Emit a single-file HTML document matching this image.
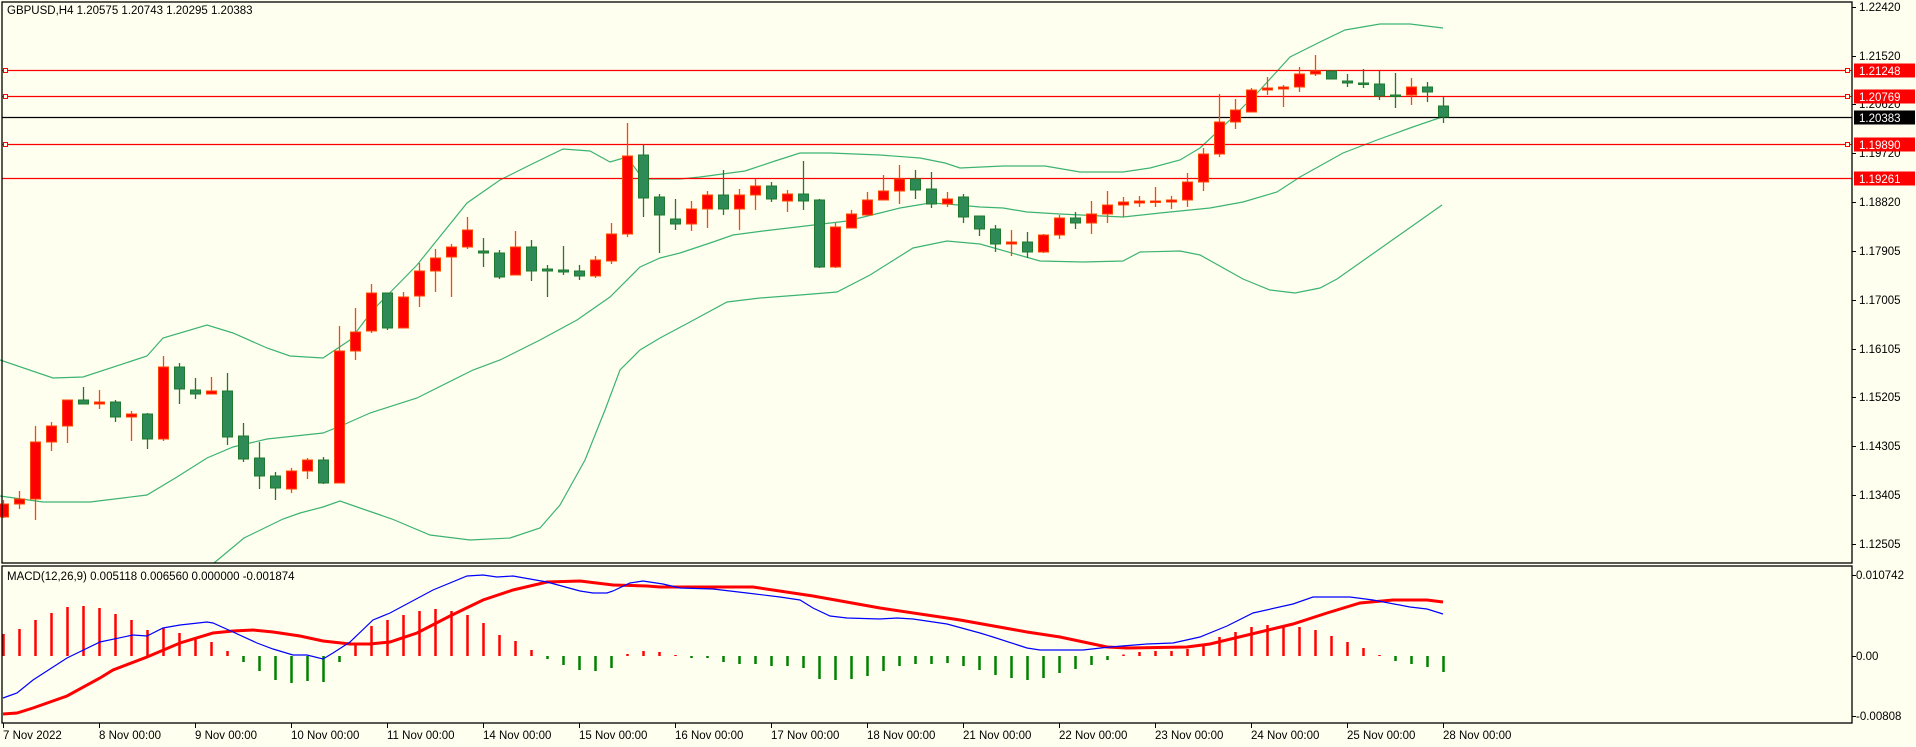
<!DOCTYPE html>
<html><head><meta charset="utf-8"><style>
html,body{margin:0;padding:0;background:#fffff0;}
svg{display:block;font-family:"Liberation Sans",sans-serif;}
</style></head><body>
<svg id="c" width="1916" height="747" viewBox="0 0 1916 747" xmlns="http://www.w3.org/2000/svg">
<rect width="1916" height="747" fill="#fffff0"/>
<g id="bands" fill="none" stroke="#3cb371" stroke-width="1.2">
<polyline points="0,360 53,378 83,377 147,356 163,338 207,325 233,333 267,348 290,356 323,358 350,340 373,310 417,265 467,203 500,180 530,165 563,149 590,151 610,162 627,157 643,179 680,179 700,177 745,171 775,161 800,153 830,153 880,155 920,158 945,163 960,168 1003,166 1045,166 1080,172 1123,172 1150,168 1180,160 1200,148 1230,120 1260,90 1290,57 1320,42 1345,30 1380,24 1410,24 1443,28"/>
<polyline points="0,496 43,502 90,502 147,495 177,477 207,458 233,447 267,439 323,433 343,425 370,413 417,398 473,370 500,360 540,340 577,320 610,297 640,267 660,258 680,253 713,242 733,235 763,231 797,227 847,221 880,213 900,208 930,203 947,204 980,207 1003,208 1027,212 1060,214 1123,217 1160,213 1210,208 1243,202 1277,192 1300,177 1343,153 1377,140 1410,128 1442,117"/>
<polyline points="214,563 244,538 283,519 300,513 323,507 340,501 360,508 392,519 430,535 470,540 510,538 540,528 560,505 585,460 605,410 620,370 640,350 660,338 690,322 727,302 760,298 800,295 837,292 870,275 913,248 947,241 980,244 1040,261 1083,262 1123,261 1140,252 1180,251 1200,255 1243,279 1270,290 1295,293 1320,288 1337,279 1442,205"/>
</g>
<g stroke="#ff0000" stroke-width="1.3">
<line x1="2" y1="70.5" x2="1852" y2="70.5"/>
<line x1="2" y1="96.5" x2="1852" y2="96.5"/>
<line x1="2" y1="144.5" x2="1852" y2="144.5"/>
<line x1="2" y1="178.5" x2="1852" y2="178.5"/>
</g>
<g fill="#fffff0" stroke="#ff0000" stroke-width="1">
<rect x="1845.5" y="68.5" width="4" height="4"/><rect x="1845.5" y="94.5" width="4" height="4"/><rect x="1845.5" y="142.5" width="4" height="4"/>
<rect x="3.5" y="68.5" width="4" height="4"/><rect x="3.5" y="94.5" width="4" height="4"/><rect x="3.5" y="142.5" width="4" height="4"/>
</g>
<line x1="2" y1="117.5" x2="1852" y2="117.5" stroke="#000" stroke-width="1.3"/>
<g id="candles"></g>
<g id="hist"></g>
<polyline fill="none" stroke="#ff0000" stroke-width="3" points="3,714 17,713 33,708 67,696 100,678 113,670 147,657 180,643 213,633 233,631 253,630 273,632 300,636 323,641 350,644 370,644 390,642 417,633 450,616 483,600 513,590 547,582 580,581 613,585 647,586 660,587 753,587 813,596 880,608 947,618 960,620 1027,632 1060,637 1107,647 1127,648 1187,647 1210,644 1260,632 1293,624 1327,613 1360,603 1393,600 1427,600 1443,602"/>
<polyline fill="none" stroke="#0000ff" stroke-width="1.2" points="3,698 17,693 33,680 67,658 100,642 133,635 147,636 163,628 180,625 207,622 213,623 233,632 257,643 273,649 293,655 307,655 323,659 333,653 350,642 373,620 390,613 433,590 467,576 483,575 497,577 513,576 530,579 547,582 580,591 593,593 607,593 613,591 630,583 643,581 663,584 680,588 713,589 747,593 780,597 800,600 813,608 830,616 847,618 880,619 897,618 913,619 947,624 980,633 993,637 1027,648 1040,650 1083,650 1110,647 1147,644 1173,643 1200,637 1227,626 1253,613 1293,604 1313,597 1350,597 1373,600 1410,607 1427,609 1443,614"/>
<g fill="none" stroke="#000" stroke-width="1.3">
<rect x="2" y="2" width="1850" height="561"/>
<rect x="2" y="566" width="1850" height="157"/>
</g>
<g id="ticks" stroke="#000" stroke-width="1"></g>
<g font-size="11.5" fill="#000">
<text x="7" y="14">GBPUSD,H4  1.20575 1.20743 1.20295 1.20383</text>
<text x="7" y="580">MACD(12,26,9) 0.005118 0.006560 0.000000 -0.001874</text>
</g>
<g id="ylab" font-size="11.5" fill="#000"></g>
<g id="xlab" font-size="11.5" fill="#000"></g>
</svg>
<script>
var NS="http://www.w3.org/2000/svg";
function el(p,t,a,txt){var e=document.createElementNS(NS,t);for(var k in a)e.setAttribute(k,a[k]);if(txt!=null)e.textContent=txt;p.appendChild(e);return e;}
var C=[
['r',504,517,500,518],['r',499,504,491,509],['r',442,499,426,520],['r',426,442,422,451],['r',400,426,400,443],
['g',400,404,387,404],['r',402,404,390,409],['g',402,417,400,422],['r',414,417,411,441],['g',414,439,413,449],
['r',367,439,356,441],['g',367,389,363,404],['g',390,394,378,399],['r',391,394,377,394],['g',391,437,373,445],
['g',436,459,423,462],['g',458,476,442,489],['g',476,488,472,500],['r',471,489,468,493],['r',460,471,458,479],
['g',460,483,457,484],['r',351,483,326,483],['r',332,351,308,360],['r',293,331,284,333],['g',293,328,293,330],
['r',297,328,292,328],['r',271,296,263,307],['r',258,271,249,292],['r',247,257,244,297],['r',230,247,217,249],
['g',251,253,238,267],['g',253,277,250,279],['r',247,275,231,275],['g',247,271,240,281],['g',269,271,265,297],
['g',270,272,246,275],['g',271,276,265,280],['r',260,276,256,278],['r',234,261,223,264],['r',156,234,123,237],
['g',155,198,144,217],['g',197,215,194,253],['g',219,224,199,230],['r',209,224,201,231],['r',195,209,191,228],
['g',195,209,170,215],['r',195,209,189,230],['r',186,195,179,210],['g',186,199,182,202],['r',194,201,190,212],
['g',194,201,161,210],['g',200,267,199,268],['r',227,267,223,268],['r',214,228,210,228],['r',200,215,192,215],
['r',191,200,175,200],['r',179,191,165,204],['g',179,190,170,199],['g',189,204,172,208],['r',199,204,192,207],
['g',197,217,194,223],['g',216,229,216,236],['g',229,244,225,252],['r',242,244,230,256],['g',242,252,232,258],
['r',235,252,234,253],['r',218,235,215,239],['g',218,223,212,229],['r',214,223,201,234],['r',205,214,191,223],
['r',202,205,197,217],['r',201,203,196,207],['r',201,202,187,207],['r',200,202,196,209],['r',182,200,173,207],
['r',154,182,148,191],['r',122,154,94,157],['r',110,122,99,129],['r',90,112,88,112],['r',88,90,77,95],
['r',87,89,85,107],['r',74,87,67,92],['r',71,74,55,76],['g',71,79,71,79],['g',81,83,74,87],
['g',83,84,69,88],['g',84,96,71,100],['g',95,96,73,108],['r',87,95,78,105],['g',87,92,82,102],
['g',106,117,97,123]];
var cg=document.getElementById('candles');
C.forEach(function(c,i){var x=3+16*i;var red=c[0]=='r';var st=red?'#ff4500':'#1f7a2e';var fl=red?'#ff0000':'#2e8b57';
el(cg,'line',{x1:x+0.5,x2:x+0.5,y1:c[3],y2:c[4],stroke:st,'stroke-width':1.3});
var h=Math.max(c[2]-c[1],1.5);el(cg,'rect',{x:x-4.5,y:c[1],width:10,height:h,fill:fl,stroke:st,'stroke-width':1});});
var H=[634,629,620,613,607,606,608,614,620,630,628,633,638,642,651,662,671,680,683,681,682,662,643,626,620,615,611,609,611,615,
623,635,641,650,659,665,670,671,668,654,651,652,655,658,658,662,664,664,666,666,668,679,680,679,676,671,666,664,664,663,
666,670,675,678,680,678,673,669,665,660,654.5,652,651,651,649,645,637,632,627,625,626,627,630,636,642,648,655,661,664,667,672];
var hg=document.getElementById('hist');
H.forEach(function(v,i){var x=3+16*i+0.5;var up=v<656;el(hg,'line',{x1:x,x2:x,y1:656,y2:v,stroke:up?'#ff0000':'#008000','stroke-width':2.5});});
var yl=document.getElementById('ylab'),tk=document.getElementById('ticks');
[['1.22420',7],['1.21520',56],['1.20620',104],['1.19720',153],['1.18820',202],['1.17905',251],['1.17005',300],['1.16105',349],['1.15205',397],['1.14305',446],['1.13405',495],['1.12505',544]].forEach(function(t){
el(tk,'line',{x1:1852,x2:1856,y1:t[1]+.5,y2:t[1]+.5});el(yl,'text',{x:1859,y:t[1]+4},t[0]);});
[['0.010742',575],['0.00',656],['-0.00808',716]].forEach(function(t){el(tk,'line',{x1:1852,x2:1856,y1:t[1]+.5,y2:t[1]+.5});el(yl,'text',{x:1856,y:t[1]+4},t[0]);});
[['1.21248',70.5,'#ff0000'],['1.20769',96.5,'#ff0000'],['1.20383',117.5,'#000'],['1.19890',144.5,'#ff0000'],['1.19261',178.5,'#ff0000']].forEach(function(t){
el(yl,'rect',{x:1854,y:t[1]-7,width:61,height:14,fill:t[2]});el(yl,'text',{x:1859,y:t[1]+4.5,fill:'#fff'},t[0]);});
var xl=document.getElementById('xlab');
var D=['7 Nov 2022','8 Nov 00:00','9 Nov 00:00','10 Nov 00:00','11 Nov 00:00','14 Nov 00:00','15 Nov 00:00','16 Nov 00:00','17 Nov 00:00','18 Nov 00:00','21 Nov 00:00','22 Nov 00:00','23 Nov 00:00','24 Nov 00:00','25 Nov 00:00','28 Nov 00:00'];
D.forEach(function(d,i){var x=3+96*i;el(tk,'line',{x1:x+.5,x2:x+.5,y1:723,y2:728});el(xl,'text',{x:i==0?3:x,y:739},d);});
</script>
</body></html>
